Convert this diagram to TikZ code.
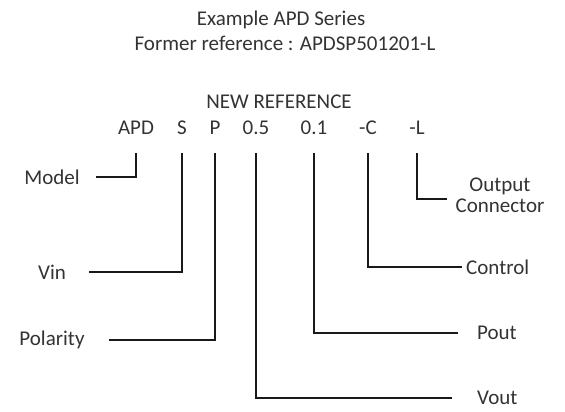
\documentclass[tikz,border=0pt]{standalone}
\usepackage{fontspec}
\setmainfont{Carlito}
\begin{document}
\begin{tikzpicture}[
  x=1pt, y=-1pt,
  lead/.style={line width=2.6pt, black!90},
  head/.style={font=\fontsize{21}{25}\selectfont, text=black!80, inner sep=0pt},
  code/.style={font=\fontsize{21}{25}\selectfont, text=black!80, inner sep=0pt},
  lab/.style={font=\fontsize{21}{21}\selectfont, text=black!80, inner sep=0pt}]
\useasboundingbox (0,0) rectangle (565,412);

% ============================ heading ===================================
\node[head] (title)  at (281,20)  {Example APD Series};
\node[head] (former) at (285,43)  {Former reference : APDSP501201-L};
\node[head] (newref) at (279,102) {NEW REFERENCE};

% ========================== the code row ================================
\foreach \nm/\tx/\xx in {cAPD/APD/136, cS/S/182, cP/P/215, cVo/0.5/256,
    cPo/0.1/314, cCt/-C/368, cOc/-L/417}{%
  \node[code] (\nm) at (\xx,128) {\tx};}
\coordinate (top) at (0,153);

% ======================= labels, left and right =========================
\node[lab] (model) at (52,177) {Model};
\node[lab] (vin)   at (52,272) {Vin};
\node[lab] (pol)   at (52,340) {Polarity};
\node[lab, align=center] (oconn) at (500,195) {Output\\Connector};
\node[lab, anchor=west] (ctl)  at (466,267) {Control};
\node[lab, anchor=west] (pout) at (477,333) {Pout};
\node[lab, anchor=west] (vout) at (477,398) {Vout};

% ============================= leads ====================================
\draw[lead, shorten >=16pt] (cAPD |- top) |- (model.east);
\draw[lead, shorten >=23pt] (cS |- top)   |- (vin.east);
\draw[lead, shorten >=24pt] (cP |- top)   |- (pol.east);
\draw[lead, shorten >=25pt] (cVo |- top)  |- (vout.west);
\draw[lead, shorten >=19pt] (cPo |- top)  |- (pout.west);
\draw[lead, shorten >=4pt]  (cCt |- top)  |- (ctl.west);
\draw[lead, shorten >=8pt]  (cOc |- top)  |- ([yshift=-4pt]oconn.west);

\end{tikzpicture}
\end{document}
